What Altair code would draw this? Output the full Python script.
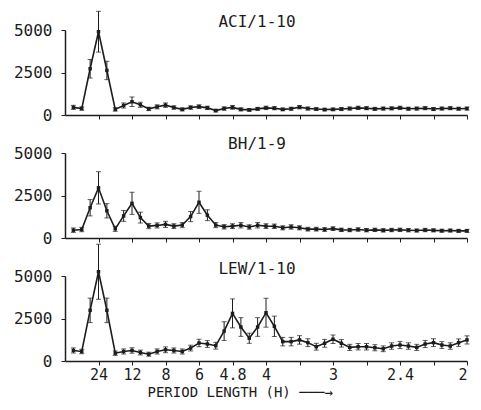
import altair as alt
import pandas as pd

# harmonic number of each estimate (period = 24 h / harmonic)
harmonics = [0.25, 0.5, 0.75, 1.0, 1.25, 1.5, 1.75, 2.0, 2.25, 2.5, 2.75, 3.0,
             3.25, 3.5, 3.75, 4.0, 4.25, 4.5, 4.75, 5.0, 5.25, 5.5, 5.75, 6.0,
             6.25, 6.5, 6.75, 7.0, 7.25, 7.5, 7.75, 8.0, 8.25, 8.5, 8.75, 9.0,
             9.25, 9.5, 9.75, 10.0, 10.25, 10.5, 10.75, 11.0, 11.25, 11.5, 11.75, 12.0]

tick_harmonics = [1, 2, 3, 4, 5, 6, 7, 8, 9, 10, 11, 12]
period_labels = ["24", "12", "8", "6", "4.8", "4", "", "3", "", "2.4", "", "2"]
y_ticks = [0, 2500, 5000]

panel_names = ["ACI/1-10", "BH/1-9", "LEW/1-10"]

aci_values = [450, 380, 2720, 4900, 2620, 330, 560, 780, 600, 360, 480, 580,
              440, 330, 440, 490, 420, 260, 380, 450, 330, 300, 360, 420,
              400, 330, 370, 460, 380, 350, 320, 330, 350, 380, 420, 400,
              360, 380, 390, 420, 370, 380, 400, 350, 380, 400, 370, 380]
aci_errors = [120, 100, 545, 1200, 540, 100, 150, 280, 150, 100, 120, 130,
              100, 90, 100, 110, 100, 80, 100, 110, 90, 80, 90, 100,
              90, 80, 90, 100, 90, 80, 80, 80, 90, 90, 100, 90,
              90, 90, 90, 100, 90, 90, 90, 90, 90, 90, 90, 90]

bh_values = [460, 500, 1780, 2950, 1600, 540, 1300, 2040, 1200, 700, 740, 800,
             700, 760, 1260, 2100, 1340, 760, 660, 700, 750, 650, 750, 700,
             690, 600, 650, 600, 520, 520, 500, 550, 480, 470, 500, 460,
             480, 450, 470, 480, 460, 440, 470, 450, 430, 440, 420, 420]
bh_errors = [130, 130, 480, 950, 420, 150, 320, 650, 320, 150, 150, 180,
             140, 150, 300, 650, 320, 150, 130, 140, 160, 130, 160, 140,
             130, 120, 130, 120, 110, 110, 110, 110, 100, 100, 100, 100,
             100, 100, 100, 100, 100, 90, 100, 90, 90, 90, 90, 90]

lew_values = [620, 560, 2980, 5250, 2980, 460, 560, 620, 500, 400, 560, 660,
              620, 560, 760, 1060, 1000, 900, 1760, 2800, 2000, 1340, 2000, 2840,
              2040, 1140, 1140, 1240, 1080, 840, 1040, 1280, 1040, 800, 840, 840,
              780, 720, 880, 940, 880, 800, 1000, 1080, 940, 880, 1080, 1240]
lew_errors = [150, 130, 720, 1620, 720, 130, 150, 160, 140, 120, 150, 170,
              150, 150, 170, 220, 200, 200, 550, 850, 550, 300, 550, 850,
              600, 250, 250, 250, 230, 200, 230, 250, 220, 180, 190, 190,
              180, 170, 190, 210, 190, 180, 210, 230, 200, 190, 220, 240]

INK = "#1c1c1c"
MONO = "DejaVu Sans Mono"
W, H, YMAX = 402, 85, 5000
LABEL_SIZE = 16
TITLE_SIZE = 16

label_expr = "[" + ",".join("'%s'" % s for s in period_labels) + "][datum.value - 1]"


def panel(name, values, errors, last, title_gap):
    hi = [v + e for v, e in zip(values, errors)]
    lo = [max(v - e, 0) for v, e in zip(values, errors)]
    df = pd.DataFrame({"k": harmonics, "v": values, "lo": lo, "hi": hi})
    # how far the panel's content reaches above the 5000 line (error bars / top label)
    above = max(max(hi) * H / YMAX - H, LABEL_SIZE / 2)
    x_axis = alt.Axis(
        values=tick_harmonics,
        labelExpr=label_expr,
        labels=last,
        labelOverlap=False,
        title="PERIOD LENGTH (H) ───→" if last else None,
        grid=False,
        ticks=True,
        tickSize=4,
        tickColor=INK,
        domainColor=INK,
        domainWidth=1.5,
        labelFont=MONO,
        labelFontSize=15,
        labelColor=INK,
        labelPadding=2,
        titleFont=MONO,
        titleFontSize=14,
        titleFontWeight="normal",
        titleColor=INK,
        titleAlign="left",
        titleX=82,
        titlePadding=3,
    )
    y_axis = alt.Axis(
        values=y_ticks,
        format="d",
        title=None,
        grid=False,
        tickSize=4,
        tickColor=INK,
        domainColor=INK,
        domainWidth=1.5,
        labelFont=MONO,
        labelFontSize=LABEL_SIZE,
        labelColor=INK,
        labelPadding=9,
        labelOverlap=False,
    )
    yscale = alt.Scale(domain=[0, YMAX], nice=False)
    base = alt.Chart(df).encode(
        x=alt.X("k:Q", scale=alt.Scale(domain=[0, 12], nice=False, zero=False), axis=x_axis)
    )

    line = base.mark_line(color=INK, strokeWidth=1.6).encode(
        y=alt.Y("v:Q", scale=yscale, axis=y_axis))
    bars = base.mark_rule(color=INK, strokeWidth=1).encode(
        y=alt.Y("lo:Q", scale=yscale, axis=y_axis), y2="hi:Q")
    cap_lo = base.mark_tick(color=INK, orient="horizontal", size=5, thickness=1).encode(
        y=alt.Y("lo:Q", scale=yscale, axis=y_axis))
    cap_hi = base.mark_tick(color=INK, orient="horizontal", size=5, thickness=1).encode(
        y=alt.Y("hi:Q", scale=yscale, axis=y_axis))
    pts = base.mark_square(color=INK, size=12, opacity=1).encode(
        y=alt.Y("v:Q", scale=yscale, axis=y_axis))

    return alt.layer(line, bars, cap_lo, cap_hi, pts).properties(
        width=W,
        height=H,
        title=alt.TitleParams(
            name,
            font=MONO,
            fontSize=TITLE_SIZE,
            fontWeight="normal",
            color=INK,
            anchor="middle",
            frame="group",
            baseline="alphabetic",
            dx=-9,
            offset=title_gap - above - TITLE_SIZE,
        ),
    )


chart = alt.vconcat(
    panel(panel_names[0], aci_values, aci_errors, False, 3),
    panel(panel_names[1], bh_values, bh_errors, False, 4),
    panel(panel_names[2], lew_values, lew_errors, True, 2),
    spacing=38,
    bounds="flush",
).properties(
    padding={"left": 5, "top": 2, "right": 0, "bottom": 0},
    background="white",
).configure_view(stroke=None).configure_axis(labelOverlap=False)

chart.save("out.html", embed_options={"renderer": "svg", "actions": False})
